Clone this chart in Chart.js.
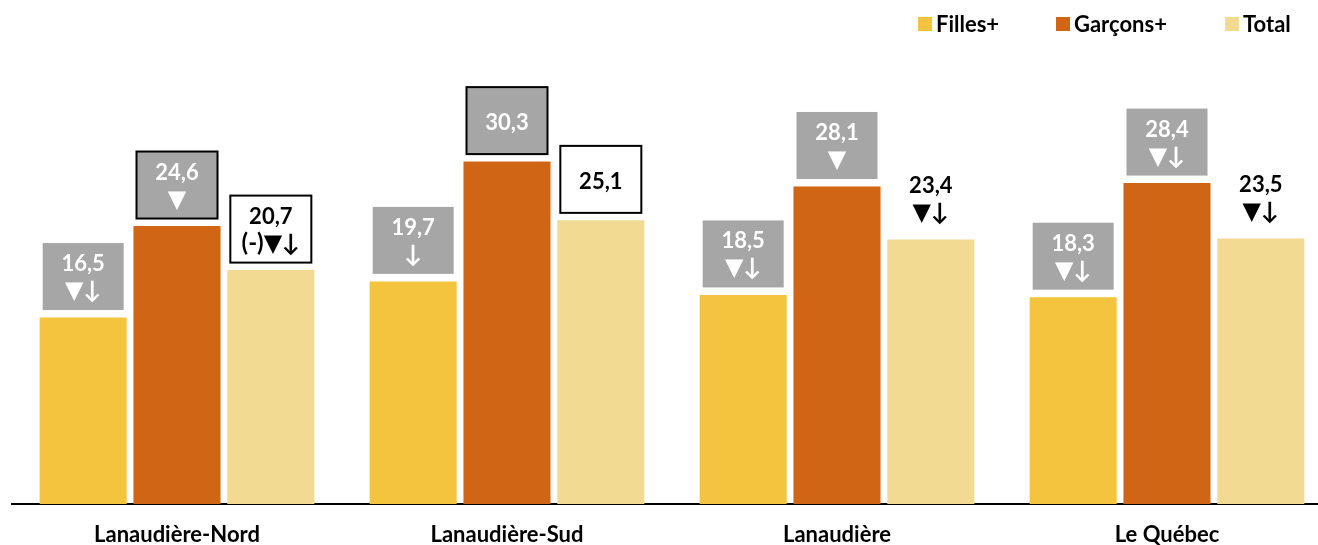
<!DOCTYPE html>
<html>
<head>
<meta charset="utf-8">
<script src="https://cdn.jsdelivr.net/npm/chart.js@4.4.1/dist/chart.umd.min.js"></script>
<style>
  html, body { margin: 0; padding: 0; background: #fff; overflow: hidden; width: 1318px; height: 545px; }
  #wrap { position: absolute; left: 0; top: 0; width: 1332px; height: 545px; }
  #c { display: block; }
  .leg { position: absolute; top: 17px; height: 14px; font-family: Lato, sans-serif; font-weight: bold; font-size: 22px; color: #000; white-space: nowrap; }
  .leg .sw { position: absolute; left: 0; top: 0; width: 14px; height: 14px; }
  .leg .tx { position: absolute; left: 18px; top: -6px; line-height: 26px; }
</style>
</head>
<body>
<div id="wrap"><canvas id="c" width="1332" height="545"></canvas></div>
<div class="leg" style="left:918px"><span class="sw" style="background:#F4C43E"></span><span class="tx">Filles+</span></div>
<div class="leg" style="left:1056px"><span class="sw" style="background:#D06615"></span><span class="tx">Garçons+</span></div>
<div class="leg" style="left:1225px"><span class="sw" style="background:#F3DA93"></span><span class="tx">Total</span></div>
<script>
// ---- data ----
const categories = ['Lanaudière-Nord', 'Lanaudière-Sud', 'Lanaudière', 'Le Québec'];
const seriesNames = ['Filles+', 'Garçons+', 'Total'];
const filles  = [16.5, 19.7, 18.5, 18.3];
const garcons = [24.6, 30.3, 28.1, 28.4];
const total   = [20.7, 25.1, 23.4, 23.5];
const fillesNotes  = ['▼↓', '↓', '▼↓', '▼↓'];
const garconsNotes = ['▼', '', '▼', '▼↓'];
const totalNotes   = ['(-)▼↓', '', '▼↓', '▼↓'];
const fillesBox  = ['gray', 'gray', 'gray', 'gray'];
const garconsBox = ['grayBorder', 'grayBorder', 'gray', 'gray'];
const totalBox   = ['whiteBorder', 'whiteBorder', 'none', 'none'];

const notes = [fillesNotes, garconsNotes, totalNotes];
const boxes = [fillesBox, garconsBox, totalBox];
const colors = ['#F4C43E', '#D06615', '#F3DA93'];
const FONT = 'Lato, "DejaVu Sans", sans-serif';

function fmt(v) { return v.toFixed(1).replace('.', ','); }

const labelPlugin = {
  id: 'boxLabels',
  afterDatasetsDraw(chart) {
    const ctx = chart.ctx;
    ctx.save();
    chart.data.datasets.forEach((ds, d) => {
      const meta = chart.getDatasetMeta(d);
      meta.data.forEach((bar, i) => {
        const style = boxes[d][i];
        const w = 81, h = 67;
        const bottom = bar.y - 7.5;
        const top = bottom - h;
        const left = bar.x - w / 2;
        if (style === 'gray' || style === 'grayBorder') {
          ctx.fillStyle = '#A6A6A6';
          ctx.fillRect(left, top, w, h);
        } else if (style === 'whiteBorder') {
          ctx.fillStyle = '#FFFFFF';
          ctx.fillRect(left, top, w, h);
        }
        if (style === 'grayBorder' || style === 'whiteBorder') {
          ctx.strokeStyle = '#000';
          ctx.lineWidth = 2;
          ctx.strokeRect(left, top, w, h);
        }
        ctx.fillStyle = (style === 'gray' || style === 'grayBorder') ? '#FFFFFF' : '#000000';
        ctx.textAlign = 'center';
        ctx.textBaseline = 'alphabetic';
        const note = notes[d][i];
        const val = fmt(ds.data[i]);
        ctx.font = 'bold 22px ' + FONT;
        if (note) {
          ctx.fillText(val, bar.x, top + 28);
          ctx.font = 'bold 24px ' + FONT;
          ctx.fillText(note, bar.x, top + 55);
        } else {
          ctx.fillText(val, bar.x, top + 43);
        }
      });
    });
    ctx.restore();
  }
};

const chart = new Chart(document.getElementById('c'), {
  type: 'bar',
  data: {
    labels: categories,
    datasets: [
      { label: seriesNames[0], data: filles,  backgroundColor: colors[0] },
      { label: seriesNames[1], data: garcons, backgroundColor: colors[1] },
      { label: seriesNames[2], data: total,   backgroundColor: colors[2] }
    ]
  },
  options: {
    responsive: false,
    animation: false,
    devicePixelRatio: 1,
    categoryPercentage: 0.853,
    barPercentage: 0.928,
    layout: { padding: { top: 52, left: 12, right: 0, bottom: 0 } },
    plugins: { legend: { display: false }, tooltip: { enabled: false } },
    scales: {
      x: {
        grid: { display: false, drawTicks: false, tickLength: 0 },
        border: { display: true, color: '#000', width: 2 },
        ticks: { color: '#000', font: { family: FONT, size: 22, weight: 'bold' }, padding: 18, maxRotation: 0, autoSkip: false },
        afterFit(scale) { scale.height = 41; }
      },
      y: { display: false, min: 0, max: 40 }
    }
  },
  plugins: [labelPlugin]
});
</script>
</body>
</html>
